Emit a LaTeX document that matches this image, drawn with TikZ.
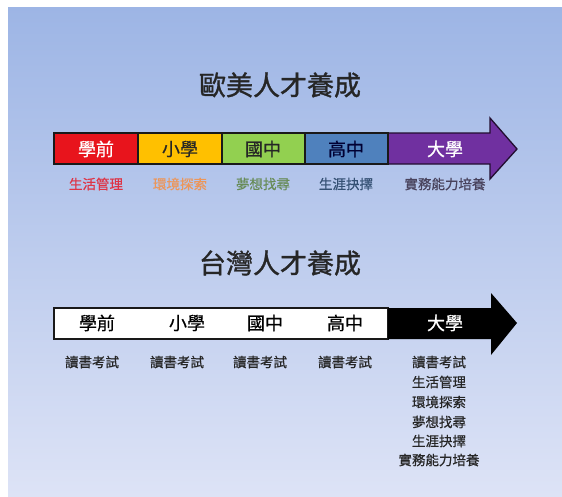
\documentclass[tikz,border=0pt]{standalone}
\usepackage{fontspec}
\newfontfamily\cjk{Noto Sans CJK TC}
\newfontfamily\cjkb[FakeBold=1.2]{Noto Sans CJK TC}
\newfontfamily\cjkm[FakeBold=0.6]{Noto Sans CJK TC}
\definecolor{bgtop}{RGB}{157,181,229}
\definecolor{bgbot}{RGB}{221,227,246}
\definecolor{cred}{RGB}{232,20,28}
\definecolor{cyel}{RGB}{255,192,0}
\definecolor{cgrn}{RGB}{146,208,80}
\definecolor{cblu}{RGB}{79,129,189}
\definecolor{cpur}{RGB}{112,48,160}
\definecolor{tred}{RGB}{222,52,70}
\definecolor{tora}{RGB}{236,150,90}
\definecolor{tgrn}{RGB}{104,140,88}
\definecolor{tblu}{RGB}{52,80,115}
\definecolor{tpur}{RGB}{72,66,92}
\begin{document}
\begin{tikzpicture}[x=1pt,y=-1pt,
  title/.style={font=\cjkb\fontsize{27}{30}\selectfont,text=black!85,inner sep=0pt},
  seglabel/.style={font=\cjkm\fontsize{18}{20}\selectfont,inner sep=0pt},
  sublabel/.style={font=\cjkm\fontsize{13.5}{15}\selectfont,inner sep=0pt},
  bar/.style={draw=black!90,line width=1.3pt,line join=miter}]
\useasboundingbox (0,0) rectangle (562,496);
\fill[white] (0,0) rectangle (562,496);
\shade[top color=bgtop,bottom color=bgbot] (8,7) rectangle (562,496);
% ---------- top ----------
\node[title] (t1) at (280,85) {歐美人才養成};
\fill[cpur] (388,133) -- (490,133) -- (490,118) -- (517,149) -- (490,179) -- (490,164) -- (388,164) -- cycle;
\draw[bar,draw=black!70!cpur] (388,133) -- (490,133) -- (490,118) -- (517,149) -- (490,179) -- (490,164) -- (388,164);
\filldraw[bar,fill=cred] (54,133) rectangle (138,164);
\filldraw[bar,fill=cyel] (138,133) rectangle (222,164);
\filldraw[bar,fill=cgrn] (222,133) rectangle (305,164);
\filldraw[bar,fill=cblu] (305,133) rectangle (388,164);
\node[seglabel,text=white] (a1) at (96,149) {學前};
\node[seglabel,text=black!85] (a2) at (180,149) {小學};
\node[seglabel,text=black!85] (a3) at (263,149) {國中};
\node[seglabel,text=black!80!blue] (a4) at (346,149) {高中};
\node[seglabel,text=white] (a5) at (445,149) {大學};
\node[sublabel,text=tred] (b1) at (96,184) {生活管理};
\node[sublabel,text=tora] (b2) at (180,184) {環境探索};
\node[sublabel,text=tgrn] (b3) at (263,184) {夢想找尋};
\node[sublabel,text=tblu] (b4) at (346,184) {生涯抉擇};
\node[sublabel,text=tpur] (b5) at (445,184) {實務能力培養};
% ---------- bottom ----------
\node[title] (t2) at (280,263) {台灣人才養成};
\filldraw[bar,fill=white] (54,308) rectangle (388,339);
\fill[black] (388,308) -- (491,308) -- (491,293) -- (517,323) -- (491,355) -- (491,339) -- (388,339) -- cycle;
\node[seglabel,text=black] (c1) at (97,323) {學前};
\node[seglabel,text=black] (c2) at (187,323) {小學};
\node[seglabel,text=black] (c3) at (265,323) {國中};
\node[seglabel,text=black] (c4) at (345,323) {高中};
\node[seglabel,text=white] (c5) at (445,323) {大學};
\node[sublabel,text=black!85] (d1) at (92,362) {讀書考試};
\node[sublabel,text=black!85] (d2) at (177,362) {讀書考試};
\node[sublabel,text=black!85] (d3) at (260,362) {讀書考試};
\node[sublabel,text=black!85] (d4) at (345,362) {讀書考試};
\node[sublabel,text=black!85] (e1) at (439,362) {讀書考試};
\node[sublabel,text=black!85] (e2) at (439,382) {生活管理};
\node[sublabel,text=black!85] (e3) at (439,402) {環境探索};
\node[sublabel,text=black!85] (e4) at (439,422) {夢想找尋};
\node[sublabel,text=black!85] (e5) at (439,441) {生涯抉擇};
\node[sublabel,text=black!85] (e6) at (439,460) {實務能力培養};
\end{tikzpicture}
\end{document}
